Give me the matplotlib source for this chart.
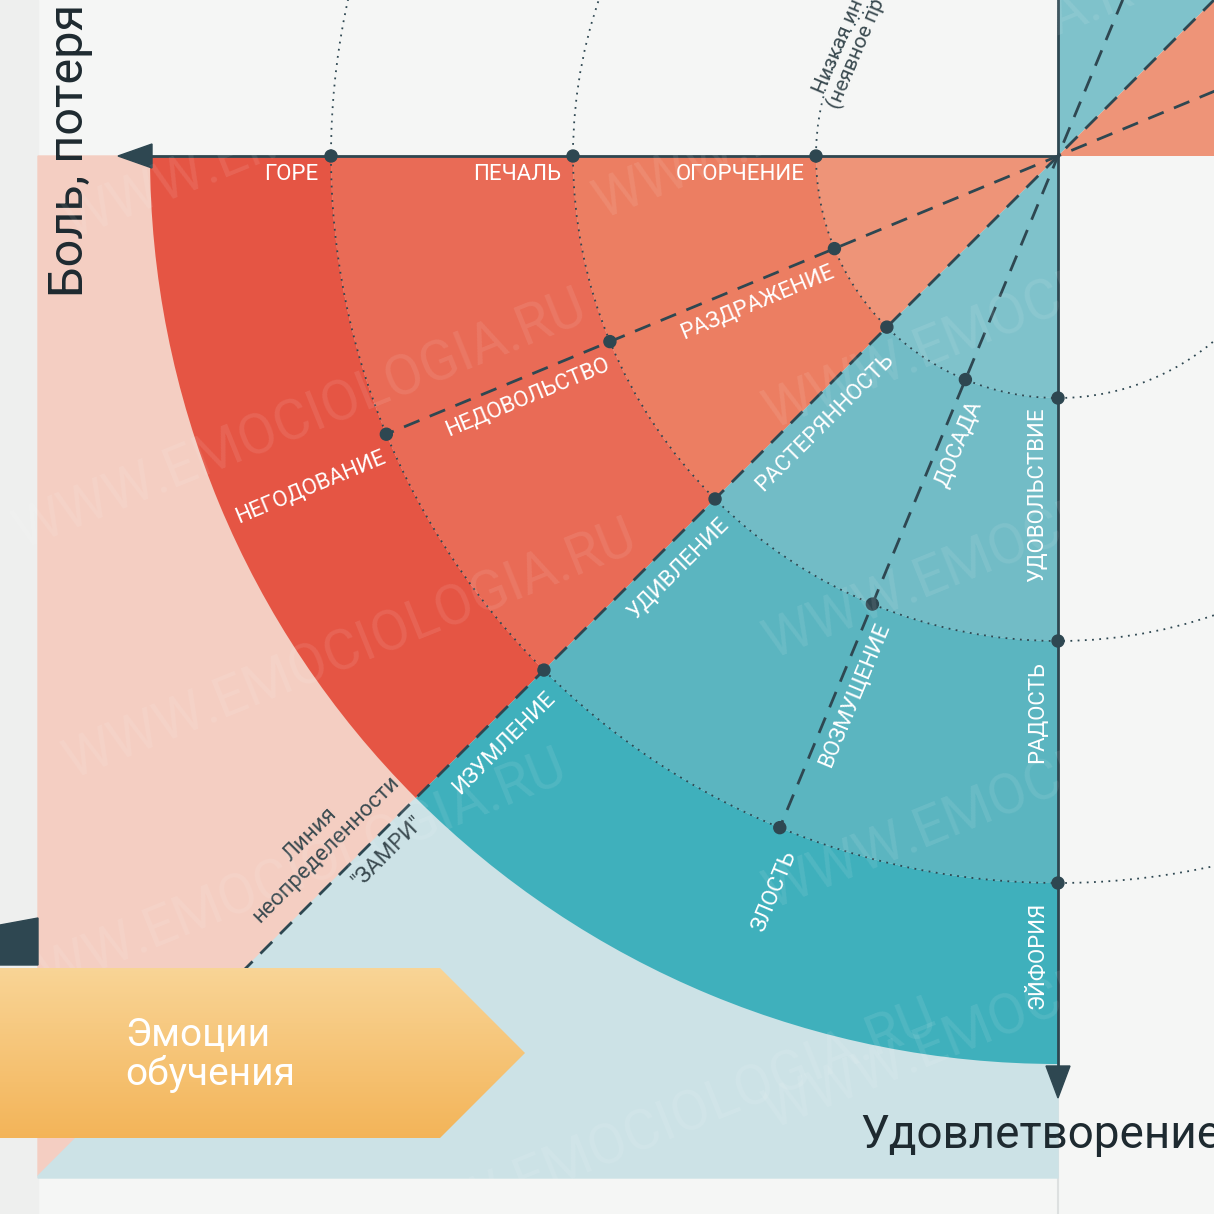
import numpy as np
import matplotlib
matplotlib.use("Agg")
import matplotlib.pyplot as plt
from matplotlib.patches import Wedge, Polygon, Circle
from matplotlib.colors import LinearSegmentedColormap

# ---- data ----
radii = [242, 485, 727, 908]
red_colors = ["#EE9478", "#EC7E62", "#E96B56", "#E55544"]
teal_colors = ["#7FC2CB", "#72BCC6", "#5BB5C0", "#3FB0BC"]
top_labels = ["ОГОРЧЕНИЕ", "ПЕЧАЛЬ", "ГОРЕ"]
top_label_x = [740, 517, 291]
red_line_labels = ["РАЗДРАЖЕНИЕ", "НЕДОВОЛЬСТВО", "НЕГОДОВАНИЕ"]
red_line_pos = [334, 582, 817]
diag_labels = ["РАСТЕРЯННОСТЬ", "УДИВЛЕНИЕ", "ИЗУМЛЕНИЕ"]
diag_pos = [353, 560, 807]
teal_line_labels = ["ДОСАДА", "ВОЗМУЩЕНИЕ", "ЗЛОСТЬ"]
teal_line_pos = [304, 576, 788]
vert_labels = ["УДОВОЛЬСТВИЕ", "РАДОСТЬ", "ЭЙФОРИЯ"]
vert_label_y = [495, 712, 955]
line_angles = [180, 157.5, 135, 112.5, 90]

cx, cy = 1058, 156
dark = "#2E4751"
FONT = ["Roboto", "DejaVu Sans"]

fig = plt.figure(figsize=(12.14, 12.14), dpi=100)
ax = fig.add_axes([0, 0, 1, 1])
ax.set_xlim(0, 1214); ax.set_ylim(1214, 0); ax.axis("off")
fig.patch.set_facecolor("#F5F6F5")
ax.add_patch(Polygon([(0, 0), (38, 0), (38, 1214), (0, 1214)], color="#EEEFEE", zorder=0))

ax.add_patch(Polygon([(38, 156), (cx, 156), (38, 156 + (cx - 38))], color="#F4CEC2", zorder=1))
ax.add_patch(Polygon([(38, 1176), (cx, 156), (cx, 1178), (38, 1178)], color="#CCE2E6", zorder=1))

def pt(r, a):
    return cx + r * np.cos(np.radians(a)), cy + r * np.sin(np.radians(a))

inner = 0
for r, rc, tc in zip(radii, red_colors, teal_colors):
    ax.add_patch(Wedge((cx, cy), r, 135, 180, width=r - inner, color=rc, zorder=2, lw=0))
    ax.add_patch(Wedge((cx, cy), r, 90, 135, width=r - inner, color=tc, zorder=2, lw=0))
    inner = r
clip = Polygon([(cx, 0), (1214, 0), (1214, 156), (cx, 156)], transform=ax.transData)
w1 = Wedge((cx, cy), 400, 270, 315, color="#7FC2CB", zorder=2, lw=0)
w2 = Wedge((cx, cy), 400, 315, 360, color="#EE9478", zorder=2, lw=0)
for w in (w1, w2):
    ax.add_patch(w); w.set_clip_path(clip)

for r in radii[:3]:
    c = Circle((cx, cy), r, fill=False, ls=(0, (1, 3)), lw=1.3, color=dark, zorder=3)
    ax.add_patch(c)
    c.set_clip_path(Polygon([(38, 0), (1214, 0), (1214, 1214), (38, 1214)], transform=ax.transData))

for a in (157.5, 112.5):
    x0, y0 = pt(-200, a); x1, y1 = pt(727, a)
    ax.plot([x0, x1], [y0, y1], ls=(0, (6, 4)), lw=2, color=dark, zorder=4)
x0, y0 = pt(-230, 135); x1, y1 = pt(1280, 135)
ax.plot([x0, x1], [y0, y1], ls=(0, (6, 4)), lw=2, color=dark, zorder=4)

ax.plot([150, cx], [156, 156], color=dark, lw=2, zorder=5)
ax.plot([cx, cx], [0, 1070], color=dark, lw=2, zorder=5)
ax.plot([cx, cx], [1070, 1214], color="#DDE0E0", lw=1.5, zorder=0)
ax.add_patch(Polygon([(118, 156), (152, 144), (152, 168)], color=dark, zorder=5))
ax.add_patch(Polygon([(cx, 1098), (cx - 12, 1066), (cx + 12, 1066)], color=dark, zorder=5))

for a in line_angles:
    for r in radii[:3]:
        x, y = pt(r, a)
        ax.add_patch(Circle((x, y), 6, color=dark, zorder=6))

kw = dict(color="white", fontsize=16, family=FONT, ha="center", va="center", zorder=7)
for x, t in zip(top_label_x, top_labels):
    ax.text(x, 175, t, **kw)

def along(a, rot, labs, pos, perp):
    ux, uy = np.cos(np.radians(a)), np.sin(np.radians(a))
    nx, ny = -uy, ux  # normal
    if a == 157.5 or a == 135:
        nx, ny = -nx, -ny
    for d, t in zip(pos, labs):
        x, y = cx + d * ux, cy + d * uy
        ax.text(x + perp * abs(nx) , y + perp * abs(ny), t, rotation=rot, rotation_mode="anchor", **kw)

along(157.5, 22.5, red_line_labels, red_line_pos, 20)
along(135, 45, diag_labels, diag_pos, 24)
along(112.5, 67.5, teal_line_labels, teal_line_pos, 19)
for t, yy in zip(vert_labels, vert_label_y):
    ax.text(1038, yy, t, rotation=90, **kw)

ax.text(318, 842, "Линия\nнеопределенности", rotation=45, rotation_mode="anchor", ha="center", va="center",
        fontsize=16, color="#3A4A50", family=FONT, linespacing=1.05, zorder=7)
ax.text(388, 852, "\"ЗАМРИ\"", rotation=45, rotation_mode="anchor", ha="center", va="center",
        fontsize=16, color="#3A4A50", family=FONT, zorder=7)
ax.text(848, 50, "Низкая ин\n(неявное пр", rotation=67, rotation_mode="anchor", ha="center", va="center",
        fontsize=15, color="#3A4A50", family=FONT, linespacing=1.0, zorder=7, clip_on=True)
ax.text(70, 150, "Боль, потеря", rotation=90, ha="center", va="center", fontsize=35,
        color="#1E2A30", family=FONT, zorder=7, clip_on=True)
ax.text(860, 1135, "Удовлетворение", ha="left", va="center", fontsize=33,
        color="#1E2A30", family=FONT, zorder=7, clip_on=True)

for (x, y) in [(350, 110), (880, 90), (1050, 300), (300, 420), (1050, 530), (350, 650), (1050, 780),
               (280, 880), (1050, 1000), (650, 1130)]:
    ax.text(x, y, "WWW.EMOCIOLOGIA.RU", rotation=22, ha="center", va="center", fontsize=40,
            color="white", alpha=0.09, family=FONT, zorder=8, clip_on=True)

ax.add_patch(Polygon([(0, 925), (38, 918), (38, 965), (0, 965)], color=dark, zorder=8))
banner = Polygon([(0, 968), (440, 968), (525, 1053), (440, 1138), (0, 1138)], transform=ax.transData)
grad = np.linspace(0, 1, 256).reshape(-1, 1)
cm = LinearSegmentedColormap.from_list("o", ["#F9D597", "#F3B458"])
im = ax.imshow(grad, cmap=cm, extent=[0, 530, 1140, 965], aspect="auto", zorder=9)
im.set_clip_path(banner)
ax.set_xlim(0, 1214); ax.set_ylim(1214, 0)
ax.text(125, 1055, "Эмоции\nобучения", color="white", fontsize=28, family=FONT, va="center",
        ha="left", zorder=10, linespacing=1.05)

fig.savefig("out.png", dpi=100, facecolor=fig.get_facecolor())
